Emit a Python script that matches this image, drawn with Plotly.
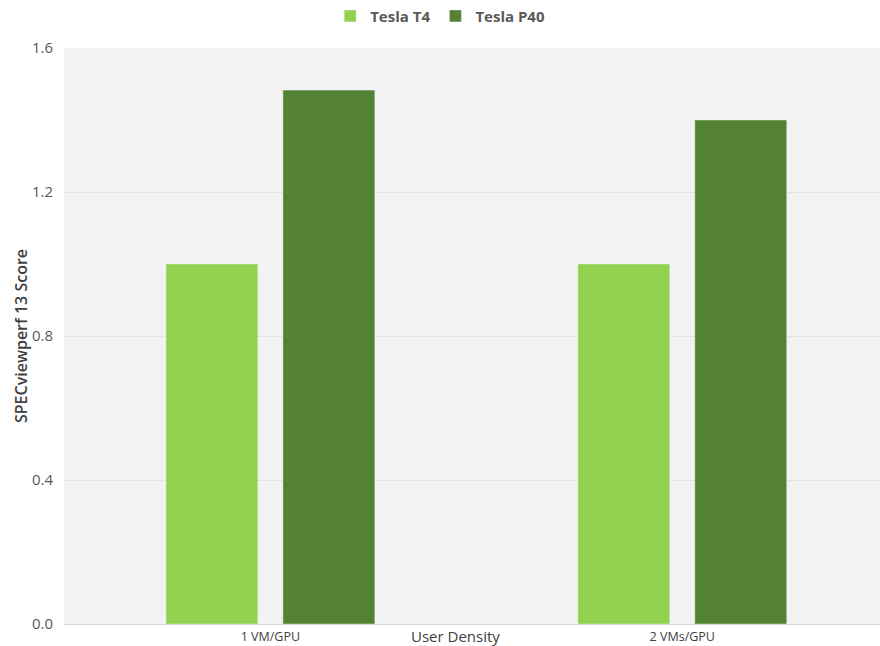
import plotly.graph_objects as go

categories = ["1 VM/GPU", "2 VMs/GPU"]
t4_values = [1.0, 1.0]
p40_values = [1.483, 1.4]
y_ticks = [0.0, 0.4, 0.8, 1.2, 1.6]
y_tick_labels = ["0.0", "0.4", "0.8", "1.2", "1.6"]

fig = go.Figure()
fig.add_trace(go.Bar(name="Tesla T4", x=categories, y=t4_values,
                     marker=dict(color="#92d050", line=dict(color="rgba(255,255,255,0.4)", width=1))))
fig.add_trace(go.Bar(name="Tesla P40", x=categories, y=p40_values,
                     marker=dict(color="#548235", line=dict(color="rgba(255,255,255,0.4)", width=1))))

fig.update_layout(
    width=880, height=646,
    margin=dict(l=64, r=0, t=48, b=22),
    paper_bgcolor="white",
    plot_bgcolor="#f2f2f2",
    barmode="group",
    bargap=0.432,
    bargroupgap=0.214,
    font=dict(family="Open Sans, sans-serif", color="#595959"),
    showlegend=True,
    legend=dict(orientation="h", x=0.461, xanchor="center", y=0.975, yanchor="middle",
                yref="container",
                font=dict(size=15, color="#595959", family="Open Sans, sans-serif", weight="bold"),
                itemwidth=30, traceorder="normal"),
    xaxis=dict(type="category", range=[-0.501, 1.48], showgrid=False,
               tickfont=dict(size=12.5, color="#404040", family="Open Sans, sans-serif"),
               ticks="", ticklen=0, automargin=False, showline=False, ticklabelstandoff=3),
    yaxis=dict(range=[0, 1.6], tickvals=y_ticks, ticktext=y_tick_labels,
               showgrid=True, gridcolor="#e2e2e2", gridwidth=1,
               zeroline=True, zerolinecolor="#d9d9d9", zerolinewidth=1,
               tickfont=dict(size=15, color="#595959", family="Open Sans, sans-serif"),
               ticks="", automargin=False, ticklabelstandoff=10,
               title=dict(text="SPECviewperf 13 Score", standoff=0,
                          font=dict(size=16, color="#404040", family="Open Sans, sans-serif", weight=600))),
)

fig.add_annotation(text="User Density", xref="paper", yref="paper", showarrow=False,
                   x=(455 - 64) / 816, xanchor="center", y=-12 / 576, yanchor="middle",
                   font=dict(size=15, color="#404040", family="Open Sans, sans-serif"))

fig.write_html("out.html")
